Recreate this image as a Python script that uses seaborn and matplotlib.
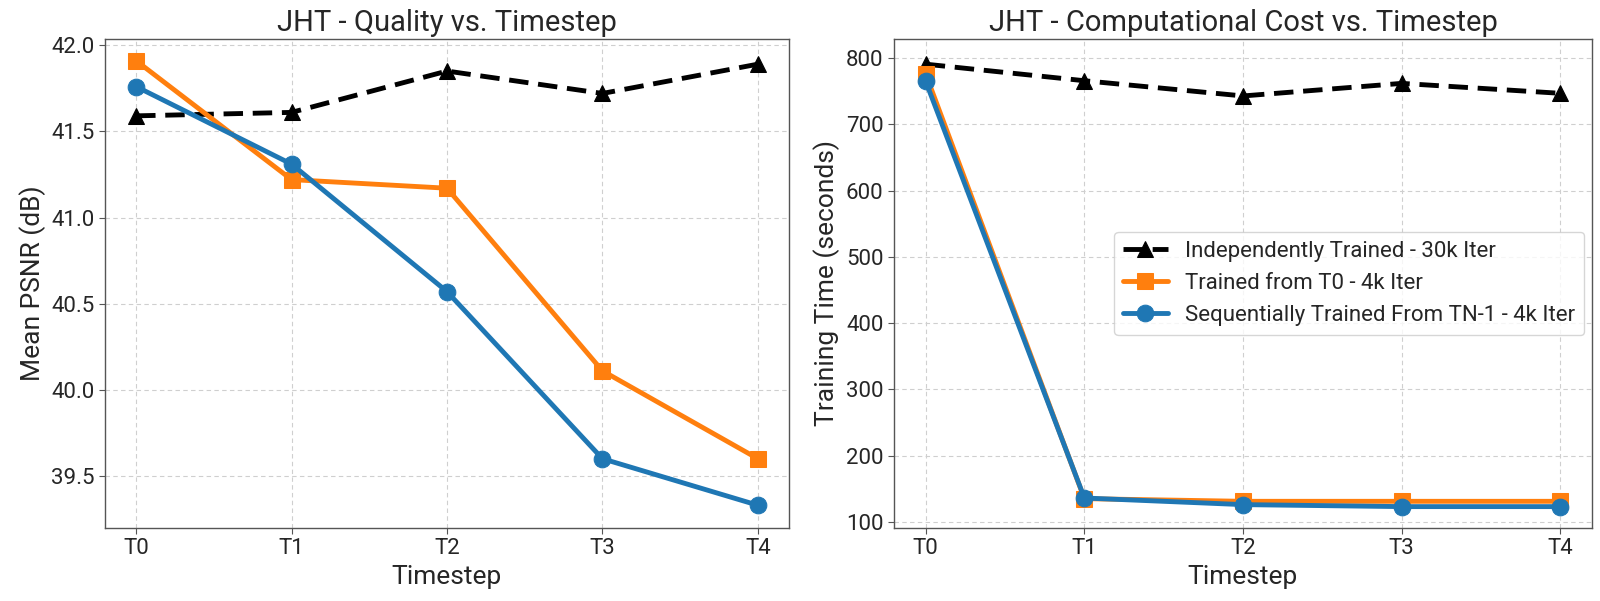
import matplotlib
matplotlib.use("Agg")
import matplotlib.pyplot as plt
import seaborn as sns
import pandas as pd

timesteps = ["T0", "T1", "T2", "T3", "T4"]
series_names = ["Independently Trained - 30k Iter",
                "Trained from T0 - 4k Iter",
                "Sequentially Trained From TN-1 - 4k Iter"]
psnr_independent = [41.59, 41.61, 41.85, 41.72, 41.89]
psnr_from_t0 = [41.91, 41.22, 41.17, 40.11, 39.60]
psnr_sequential = [41.76, 41.31, 40.57, 39.60, 39.33]
time_independent = [791, 766, 743, 762, 747]
time_from_t0 = [776, 135, 131, 131, 131]
time_sequential = [765, 136, 126, 123, 123]

sns.set_style("white")
plt.rcParams['font.family'] = ['Roboto', 'DejaVu Sans']

colors = ["black", "#ff7f0e", "#1f77b4"]
markers = ["^", "s", "o"]
dashes = [(4, 2), "", ""]

fig = plt.figure(figsize=(16, 6.01), dpi=100)
ax1 = fig.add_axes([105/1600, 1-528/601, 684/1600, 489/601])
ax2 = fig.add_axes([894/1600, 1-528/601, 698/1600, 489/601])

def draw(ax, vals_list):
    for name, vals, c, m, d in zip(series_names, vals_list, colors, markers, dashes):
        df = pd.DataFrame({"Timestep": timesteps, "v": vals})
        sns.lineplot(data=df, x="Timestep", y="v", ax=ax, color=c, marker=m,
                     markersize=12, linewidth=3.5, label=name,
                     markeredgecolor=c, sort=False)
        ln = ax.lines[-1]
        if d:
            ln.set_dashes(d)
    ax.grid(True, linestyle=(0, (4, 3)), color="#cfcfcf", linewidth=0.8)
    ax.tick_params(axis="both", labelsize=16, length=4, color="#555555", left=True, bottom=True)
    for s in ax.spines.values():
        s.set_color("#555555")
        s.set_linewidth(1.0)
    ax.set_xlabel("Timestep", fontsize=19)

draw(ax1, [psnr_independent, psnr_from_t0, psnr_sequential])
ax1.set_ylim(39.198, 42.036)
ax1.set_yticks([39.5, 40.0, 40.5, 41.0, 41.5, 42.0])
ax1.set_ylabel("Mean PSNR (dB)", fontsize=19)
ax1.set_title("JHT - Quality vs. Timestep", fontsize=21)
ax1.legend().remove()

draw(ax2, [time_independent, time_from_t0, time_sequential])
ax2.set_ylim(90.7, 829)
ax2.set_yticks([100, 200, 300, 400, 500, 600, 700, 800])
ax2.set_ylabel("Training Time (seconds)", fontsize=19)
ax2.set_title("JHT - Computational Cost vs. Timestep", fontsize=21)
ax2.legend(loc="center right", fontsize=16, frameon=True, bbox_to_anchor=(1.005, 0.5))

fig.savefig("out.png", dpi=100)
